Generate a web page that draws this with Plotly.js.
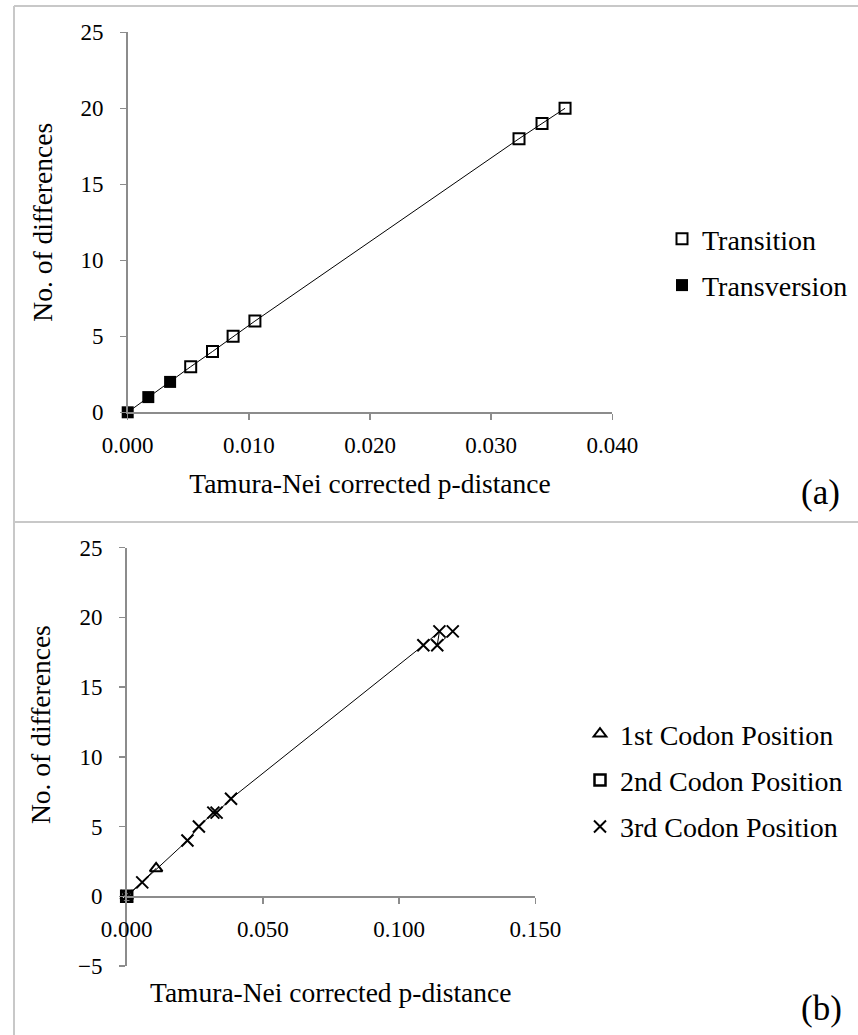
<!DOCTYPE html>
<html>
<head>
<meta charset="utf-8">
<script src="https://cdn.plot.ly/plotly-3.0.1.min.js"></script>
<style>html,body{margin:0;padding:0;background:#fff}#chart{width:858px;height:1035px}</style>
</head>
<body>
<div id="chart"></div>
<script>
// Panel (a) data
const transitionX = [0.0052, 0.0070, 0.0087, 0.0105, 0.0323, 0.0342, 0.0361];
const transitionY = [3, 4, 5, 6, 18, 19, 20];
const transversionX = [0, 0.0017, 0.0035];
const transversionY = [0, 1, 2];

// Panel (b) data
const codon1X = [0, 0.0108];
const codon1Y = [0, 2];
const codon2X = [0];
const codon2Y = [0];
const codon3X = [0, 0.0057, 0.0223, 0.0265, 0.0318, 0.0330, 0.0383, 0.1089, 0.1148, 0.1140, 0.1197];
const codon3Y = [0, 1, 4, 5, 6, 6, 7, 18, 19, 18, 19];

const xTicksA = [0, 0.01, 0.02, 0.03, 0.04];
const xTickTextA = ['0.000', '0.010', '0.020', '0.030', '0.040'];
const xTicksB = [0, 0.05, 0.1, 0.15];
const xTickTextB = ['0.000', '0.050', '0.100', '0.150'];

const W = 858, H = 1035;
const px = v => v / W;
const py = v => 1 - v / H;

const FONT = '"Liberation Serif", "Times New Roman", serif';
const axisGray = '#8c8c8c';

const lineA_X = transversionX.concat(transitionX);
const lineA_Y = transversionY.concat(transitionY);

const traces = [
  {x: lineA_X, y: lineA_Y, mode: 'lines', line: {color: '#000', width: 1}, showlegend: false, hoverinfo: 'skip', xaxis: 'x', yaxis: 'y'},
  {x: transitionX, y: transitionY, mode: 'markers', name: 'Transition', legendgroup: 'a1', cliponaxis: false,
   marker: {symbol: 'square-open', size: 11, color: '#000', line: {width: 2, color: '#000'}}, xaxis: 'x', yaxis: 'y', legend: 'legend'},
  {x: transversionX, y: transversionY, mode: 'markers', name: 'Transversion', legendgroup: 'a2', cliponaxis: false,
   marker: {symbol: 'square', size: 12, color: '#000'}, xaxis: 'x', yaxis: 'y', legend: 'legend'},

  {x: codon3X, y: codon3Y, mode: 'lines', line: {color: '#000', width: 1}, showlegend: false, hoverinfo: 'skip', xaxis: 'x2', yaxis: 'y2'},
  {x: codon1X, y: codon1Y, mode: 'lines', line: {color: '#000', width: 1}, showlegend: false, hoverinfo: 'skip', xaxis: 'x2', yaxis: 'y2'},
  {x: codon1X, y: codon1Y, mode: 'markers', name: '1st Codon Position', legendgroup: 'b1', cliponaxis: false,
   marker: {symbol: 'triangle-up-open', size: 11, color: '#000', line: {width: 2, color: '#000'}}, xaxis: 'x2', yaxis: 'y2', legend: 'legend2'},
  {x: codon2X, y: codon2Y, mode: 'markers', name: '2nd Codon Position', legendgroup: 'b2', cliponaxis: false,
   marker: {symbol: 'square-open', size: 11, color: '#000', line: {width: 2.5, color: '#000'}}, xaxis: 'x2', yaxis: 'y2', legend: 'legend2'},
  {x: codon3X, y: codon3Y, mode: 'markers', name: '3rd Codon Position', legendgroup: 'b3', cliponaxis: false,
   marker: {symbol: 'x-thin-open', size: 12, color: '#000', line: {width: 2, color: '#000'}}, xaxis: 'x2', yaxis: 'y2', legend: 'legend2'}
];

const commonAxis = {
  showline: true, linecolor: axisGray, linewidth: 1.5,
  ticks: 'outside', ticklen: 6, tickcolor: axisGray, tickwidth: 1.5,
  showgrid: false, zeroline: false,
  tickfont: {family: FONT, size: 23, color: '#000'},
  fixedrange: true
};

const layout = {
  width: W, height: H,
  margin: {l: 0, r: 0, t: 0, b: 0},
  paper_bgcolor: '#fff', plot_bgcolor: 'rgba(0,0,0,0)',
  font: {family: FONT, color: '#000'},
  showlegend: true,
  xaxis: Object.assign({}, commonAxis, {
    domain: [px(127.7), px(612.3)], range: [0, 0.04], anchor: 'y',
    tickvals: xTicksA, ticktext: xTickTextA, ticklabelstandoff: 6,
    title: {text: 'Tamura-Nei corrected p-distance', font: {family: FONT, size: 27.5, color: '#000'}, standoff: 16}
  }),
  yaxis: Object.assign({}, commonAxis, {
    domain: [py(412.3), py(32.3)], range: [0, 25], dtick: 5, anchor: 'x',
    ticklabelstandoff: 12,
    title: {text: 'No. of differences', font: {family: FONT, size: 27.5, color: '#000'}, standoff: 20}
  }),
  xaxis2: Object.assign({}, commonAxis, {
    domain: [px(126.7), px(535.3)], range: [0, 0.15], anchor: 'free', position: py(896),
    tickvals: xTicksB, ticktext: xTickTextB, ticklabelstandoff: 6
  }),
  yaxis2: Object.assign({}, commonAxis, {
    domain: [py(966), py(547.7)], range: [-5, 25], dtick: 5, anchor: 'x2',
    ticklabelstandoff: 12
  }),
  legend: {
    x: px(662), y: py(214), xanchor: 'left', yanchor: 'top',
    font: {family: FONT, size: 28, color: '#000'}, bgcolor: 'rgba(0,0,0,0)',
    traceorder: 'grouped', tracegroupgap: 7, itemwidth: 30
  },
  legend2: {
    x: px(580), y: py(709), xanchor: 'left', yanchor: 'top',
    font: {family: FONT, size: 28, color: '#000'}, bgcolor: 'rgba(0,0,0,0)',
    traceorder: 'grouped', tracegroupgap: 7, itemwidth: 30
  },
  annotations: [
    {text: 'Tamura-Nei corrected p-distance', xref: 'paper', yref: 'paper', x: px(331), y: py(992),
     xanchor: 'center', yanchor: 'middle', showarrow: false, font: {family: FONT, size: 27.5, color: '#000'}},
    {text: 'No. of differences', xref: 'paper', yref: 'paper', x: px(40), y: py(725), textangle: -90,
     xanchor: 'center', yanchor: 'middle', showarrow: false, font: {family: FONT, size: 27.5, color: '#000'}},
    {text: '(a)', xref: 'paper', yref: 'paper', x: px(820), y: py(492),
     xanchor: 'center', yanchor: 'middle', showarrow: false, font: {family: FONT, size: 35, color: '#000'}},
    {text: '(b)', xref: 'paper', yref: 'paper', x: px(821), y: py(1008),
     xanchor: 'center', yanchor: 'middle', showarrow: false, font: {family: FONT, size: 35, color: '#000'}}
  ],
  shapes: [
    {type: 'line', xref: 'paper', yref: 'paper', x0: px(14), x1: 1, y0: py(6), y1: py(6), line: {color: '#c8c8c8', width: 2}},
    {type: 'line', xref: 'paper', yref: 'paper', x0: px(14), x1: 1, y0: py(522), y1: py(522), line: {color: '#c8c8c8', width: 2}},
    {type: 'line', xref: 'paper', yref: 'paper', x0: px(14), x1: px(14), y0: py(6), y1: 0, line: {color: '#c8c8c8', width: 2}}
  ]
};

Plotly.newPlot('chart', traces, layout, {displayModeBar: false, staticPlot: true});
</script>
</body>
</html>
